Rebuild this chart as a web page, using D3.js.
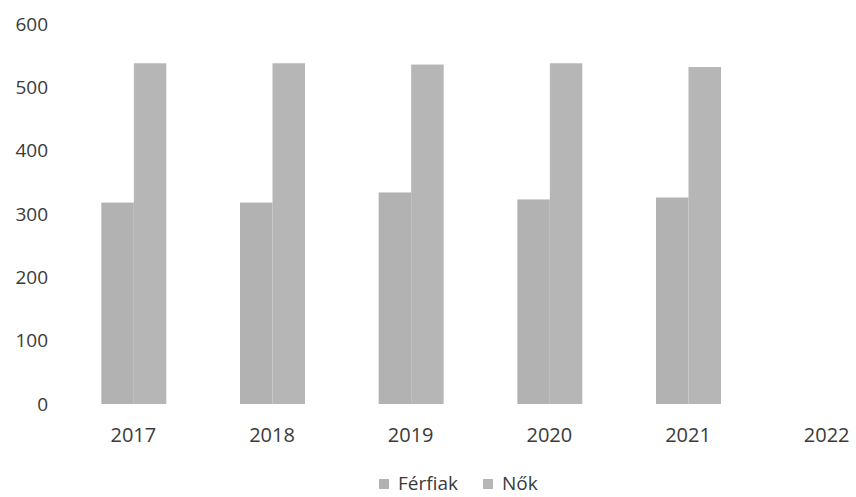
<!DOCTYPE html>
<html><head><meta charset="utf-8">
<script src="https://cdn.jsdelivr.net/npm/d3@7"></script>
<style>body{margin:0;background:#fff}svg{display:block}</style>
</head><body><svg id="c" width="856" height="497"></svg>
<script>
const years = ["2017","2018","2019","2020","2021","2022"];
const seriesNames = ["Férfiak","Nők"];
const ferfiak = [318, 318, 334, 323, 326, null];
const nok = [538, 538, 536, 538, 532, null];
const yTicks = [0,100,200,300,400,500,600];

const svg = d3.select("#c");
const font = "'Open Sans', 'Liberation Sans', sans-serif";
const y = d3.scaleLinear().domain([0,600]).range([404,24]);
const x = d3.scaleBand().domain(years).range([64,896]).paddingInner(0).paddingOuter(0);
const sub = d3.scaleBand().domain(seriesNames).range([x.bandwidth()/2-32, x.bandwidth()/2+33]);
const colors = {"Férfiak":"#b2b2b2","Nők":"#b6b6b6"};
const data = [ferfiak, nok];

const yAxis = svg.append("g").attr("transform","translate(48,0)")
  .call(d3.axisLeft(y).tickValues(yTicks).tickSize(0).tickPadding(0));
yAxis.select(".domain").remove();
yAxis.selectAll("text").attr("font-family",font).attr("font-size",19).attr("fill","#3a3a3a");

const xAxis = svg.append("g").attr("transform","translate(0,435)")
  .call(d3.axisBottom(x).tickSize(0).tickPadding(0));
xAxis.select(".domain").remove();
xAxis.selectAll("text").attr("font-family",font).attr("font-size",20).attr("fill","#3a3a3a").attr("dy","0.35em");

seriesNames.forEach((s,i)=>{
  svg.append("g").selectAll("rect").data(years.map((yr,j)=>({yr,v:data[i][j]})).filter(d=>d.v!=null))
    .join("rect")
    .attr("x",d=>x(d.yr)+sub(s)).attr("width",sub.bandwidth())
    .attr("y",d=>y(d.v)).attr("height",d=>y(0)-y(d.v))
    .attr("fill",colors[s]);
});

const leg = svg.append("g");
const legX = [379, 483];
seriesNames.forEach((s,i)=>{
  leg.append("rect").attr("x",legX[i]).attr("y",479).attr("width",10).attr("height",10).attr("fill",colors[s]);
  leg.append("text").attr("x",legX[i]+19).attr("y",483).attr("dy","0.35em")
    .attr("font-family",font).attr("font-size",19).attr("fill","#3a3a3a").text(s);
});
</script></body></html>
